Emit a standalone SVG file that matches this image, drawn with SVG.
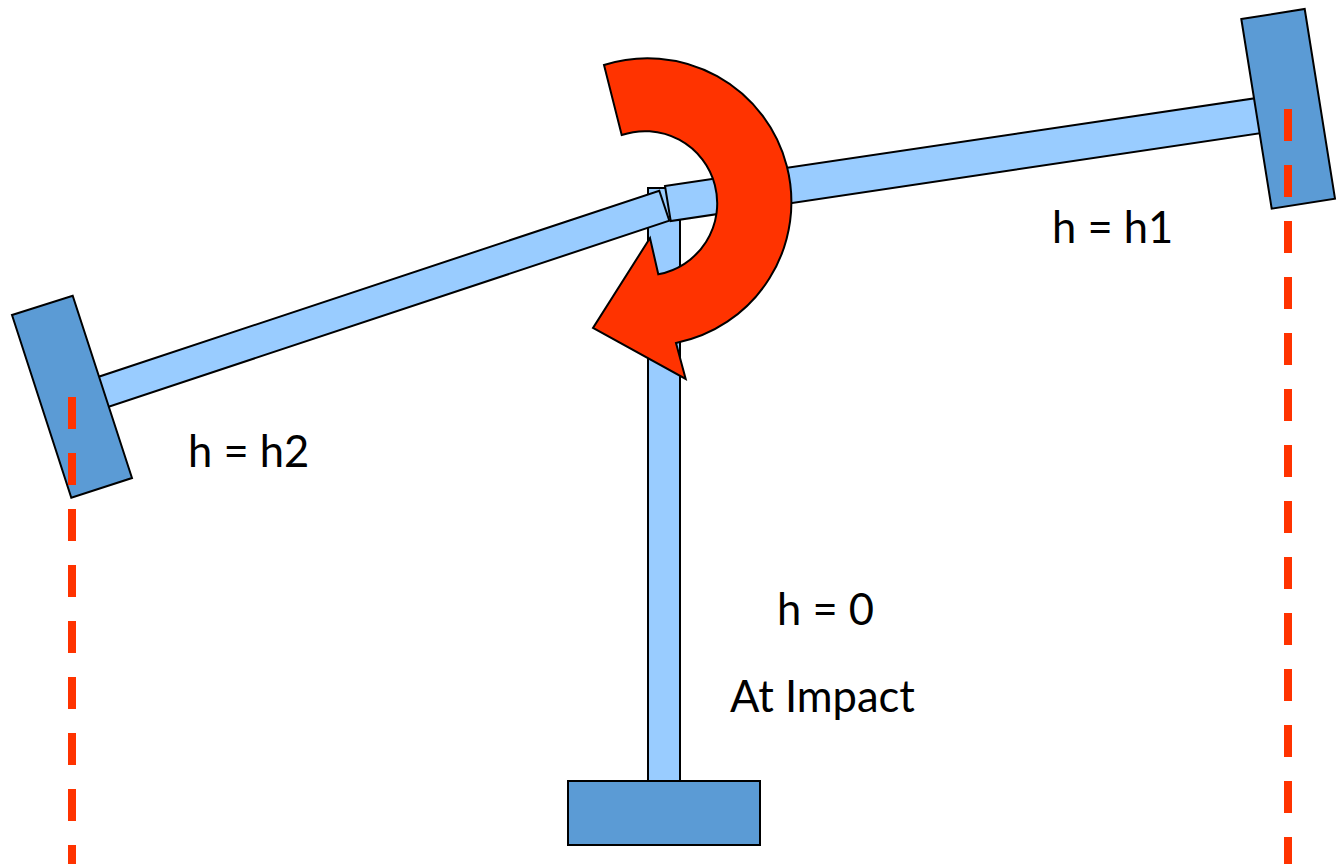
<svg xmlns="http://www.w3.org/2000/svg" width="1337" height="864" viewBox="0 0 1337 864">
<style>
.arm{fill:#99ccff;stroke:#000;stroke-width:2}
.head{fill:#5b9bd5;stroke:#000;stroke-width:2}
.dash{stroke:#ff3300;stroke-width:8;stroke-dasharray:32 24;fill:none}
.t{font-family:Lato,"Liberation Sans",sans-serif;font-size:43.5px;fill:#000}
</style>
<rect width="1337" height="864" fill="#fff"/>
<g id="post"><rect class="arm" x="648" y="188" width="32" height="594"/></g>
<g id="base"><rect class="head" x="568" y="781" width="192" height="64"/></g>
<g id="left-arm"><polygon class="arm" points="659.3,190.7 669.3,220.7 105,408 95,378"/></g>
<g id="right-arm"><polygon class="arm" points="665,186 1257,98 1262,133 670.7,221"/></g>
<g id="left-head"><polygon class="head" points="12,315 72.7,295.7 132,478 71.3,497.7"/></g>
<g id="right-head"><polygon class="head" points="1241.3,19 1304.7,9 1335,198.7 1271.7,208.7"/></g>
<g id="connectors">
<line class="dash" x1="72" y1="397" x2="72" y2="864"/>
<line class="dash" x1="1288" y1="109" x2="1288" y2="864"/>
</g>
<g id="rotation-arrow"><path d="M604,65 A143.8,143.8 0 1 1 676,343 L685.7,379 L593,328 L650,238 L658.3,274.3 A72.2,72.2 0 1 0 621.7,135 Z" fill="#ff3300" stroke="#000" stroke-width="2" stroke-linejoin="miter"/></g>
<g id="labels">
<text class="t" x="1052" y="243">h = h1</text>
<text class="t" x="188" y="467">h = h2</text>
<text class="t" x="777" y="625">h = 0</text>
<text class="t" x="730" y="712">At Impact</text>
</g>
</svg>
